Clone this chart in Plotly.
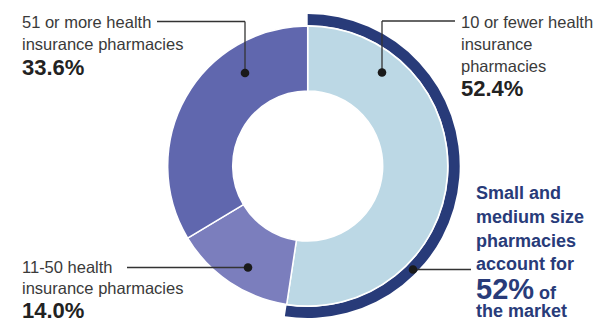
import plotly.graph_objects as go

W, H = 595, 320

categories = ["10 or fewer health insurance pharmacies",
              "11-50 health insurance pharmacies",
              "51 or more health insurance pharmacies"]
shares = [52.4, 14.0, 33.6]
slice_colors = ["#BCD8E5", "#7B7EBD", "#6067AE"]

highlight_labels = ["Small and medium size", "rest"]
highlight_values = [52.4, 47.6]

NAVY = "#283B79"
TXT = "#3a3a3a"
NUM = "#222222"
FONT = "Liberation Sans, Arial, sans-serif"

def px_x(x):
    return x / W

def px_y(y):
    return 1 - y / H

cx, cy = 307.7, 166.0
r_in, r_arc = 140.0, 152.0

fig = go.Figure()

fig.add_trace(go.Pie(
    labels=highlight_labels, values=highlight_values, sort=False,
    direction="clockwise", rotation=0, hole=141.0 / r_arc,
    marker=dict(colors=[NAVY, "rgba(0,0,0,0)"], line=dict(width=0)),
    textinfo="none", hoverinfo="skip", showlegend=False,
    domain=dict(x=[px_x(cx - r_arc), px_x(cx + r_arc)],
                y=[px_y(cy + r_arc), px_y(cy - r_arc)]),
))

fig.add_trace(go.Pie(
    labels=categories, values=shares, sort=False,
    direction="clockwise", rotation=0, hole=75.0 / r_in,
    marker=dict(colors=slice_colors, line=dict(color="white", width=1.5)),
    textinfo="none", hoverinfo="skip", showlegend=False,
    domain=dict(x=[px_x(cx - r_in), px_x(cx + r_in)],
                y=[px_y(cy + r_in), px_y(cy - r_in)]),
))

shapes = []
def line(pts):
    for (x0, y0), (x1, y1) in zip(pts[:-1], pts[1:]):
        shapes.append(dict(type="line", xref="paper", yref="paper",
                           x0=px_x(x0), y0=px_y(y0), x1=px_x(x1), y1=px_y(y1),
                           line=dict(color="#333333", width=1.3)))

def dot(x, y, r=4.3):
    shapes.append(dict(type="circle", xref="paper", yref="paper",
                       x0=px_x(x - r), x1=px_x(x + r), y0=px_y(y + r), y1=px_y(y - r),
                       fillcolor="#1a1a1a", line=dict(width=0)))

line([(157, 21.5), (245, 21.5), (245, 73)])
dot(245, 73)
line([(455, 21), (382, 21), (382, 72.5)])
dot(382, 72.5)
line([(127, 267.5), (248, 267.5)])
dot(248, 267.5)
line([(413, 269.5), (471, 269.5)])
dot(413, 269.5)

annotations = []
def txt(x, y, s, size, color, bold=False, anchor="middle"):
    annotations.append(dict(xref="paper", yref="paper", x=px_x(x), y=px_y(y),
                            xanchor="left", yanchor=anchor, showarrow=False,
                            text=f"<b>{s}</b>" if bold else s,
                            font=dict(size=size, color=color, family=FONT)))

# left top
txt(20, 22, "51 or more health", 16.5, TXT)
txt(20, 44, "insurance pharmacies", 16.5, TXT)
txt(20, 67, f"{shares[2]:.1f}%", 22, NUM, True)
# right top
txt(459, 22, "10 or fewer health", 16.5, TXT)
txt(459, 44, "insurance", 16.5, TXT)
txt(459, 65.5, "pharmacies", 16.5, TXT)
txt(459, 88, f"{shares[0]:.1f}%", 22, NUM, True)
# left bottom
txt(20, 267, "11-50 health", 16.5, TXT)
txt(20, 288, "insurance pharmacies", 16.5, TXT)
txt(20, 310, f"{shares[1]:.1f}%", 22, NUM, True)
# right callout
txt(474, 193, "Small and", 18, NAVY, True)
txt(474, 217, "medium size", 18, NAVY, True)
txt(474, 240.5, "pharmacies", 18, NAVY, True)
txt(474, 263.5, "account for", 18, NAVY, True)
annotations.append(dict(xref="paper", yref="paper", x=px_x(474), y=px_y(289),
                        xanchor="left", yanchor="middle", showarrow=False,
                        text=f"<b><span style='font-size:29px'>{round(highlight_values[0])}%</span> of</b>",
                        font=dict(size=18, color=NAVY, family=FONT)))
txt(474, 311, "the market", 18, NAVY, True)

fig.update_layout(width=W, height=H, margin=dict(l=0, r=0, t=0, b=0),
                  paper_bgcolor="white", plot_bgcolor="white",
                  shapes=shapes, annotations=annotations, showlegend=False)

fig.write_html("out.html")
